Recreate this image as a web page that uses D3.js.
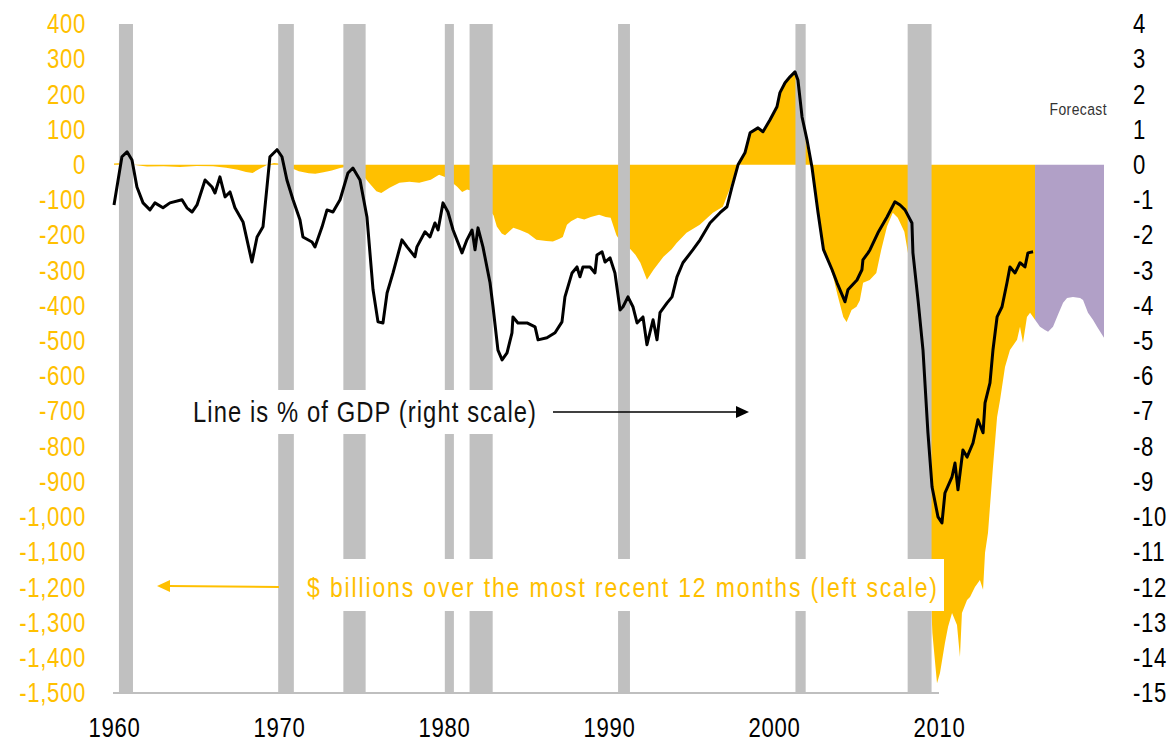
<!DOCTYPE html>
<html lang="en">
<head>
<meta charset="UTF-8">
<title>Budget balance</title>
<style>
  body { margin: 0; background: #fff; }
  svg text { font-family: "Liberation Sans", Arial, sans-serif; }
  .tick text { font-size: 27px; letter-spacing: 0.8px; }
</style>
</head>
<body>
<svg width="1172" height="745"></svg>
<script src="https://d3js.org/d3.v7.min.js"></script>
<script>
// recession periods (start, end) in fractional years
const recessions = [
  [1960.3, 1961.15], [1969.95, 1970.9], [1973.9, 1975.25], [1980.05, 1980.6],
  [1981.55, 1982.95], [1990.55, 1991.27], [2001.3, 2001.92], [2008.1, 2009.55]
];

// 12-month budget balance, $ billions (left scale)
const deficit = [
  [1960.0, 4], [1960.5, 5], [1961.0, 2], [1961.5, -2], [1962.0, -5], [1963.0, -4],
  [1964.0, -6], [1965.0, -3], [1966.0, -4], [1966.8, -8], [1967.5, -14], [1968.0, -20],
  [1968.4, -23], [1968.8, -12], [1969.3, 0], [1969.7, 5], [1970.1, 3], [1970.6, -6],
  [1971.2, -18], [1971.8, -24], [1972.2, -25], [1972.7, -21], [1973.2, -16], [1973.7, -9],
  [1974.2, -5], [1974.7, -10], [1975.1, -30], [1975.4, -48], [1975.9, -75], [1976.2, -80],
  [1976.7, -65], [1977.3, -51], [1977.9, -48], [1978.5, -51], [1979.2, -42], [1979.7, -28],
  [1980.1, -35], [1980.8, -62], [1981.1, -77], [1981.4, -70], [1981.8, -75], [1982.3, -100],
  [1982.7, -125], [1983.0, -143], [1983.2, -175], [1983.5, -195], [1983.7, -200], [1984.2, -179],
  [1984.6, -185], [1985.1, -195], [1985.6, -213], [1986.2, -216], [1986.6, -218], [1987.0, -210],
  [1987.2, -205], [1987.45, -170], [1987.7, -160], [1988.1, -150], [1988.5, -155], [1988.9, -148],
  [1989.4, -142], [1989.8, -148], [1990.1, -150], [1990.45, -200], [1990.8, -225], [1991.3, -240],
  [1991.6, -255], [1991.9, -278], [1992.3, -326], [1992.7, -298], [1993.3, -261], [1993.8, -240],
  [1994.1, -222], [1994.7, -193], [1995.5, -170], [1996.3, -136], [1996.9, -119], [1997.3, -71],
  [1997.8, 0], [1998.2, 34], [1998.5, 91], [1999.0, 105], [1999.3, 94], [1999.8, 128],
  [2000.2, 165], [2000.4, 205], [2000.7, 233], [2001.0, 250], [2001.27, 264], [2001.45, 241],
  [2001.7, 136], [2002.0, 50], [2002.3, -10], [2002.67, -135], [2003.0, -240], [2003.3, -275],
  [2003.6, -320], [2003.85, -370], [2004.2, -432], [2004.4, -446], [2004.7, -412], [2005.0, -403],
  [2005.2, -385], [2005.4, -335], [2005.8, -327], [2006.2, -307], [2006.5, -241], [2006.85, -175],
  [2007.2, -136], [2007.5, -150], [2007.9, -190], [2008.3, -300], [2008.7, -450], [2009.0, -700],
  [2009.3, -1000], [2009.6, -1330], [2009.88, -1472], [2010.06, -1443], [2010.36, -1358], [2010.55, -1312],
  [2010.79, -1273], [2011.09, -1307], [2011.27, -1398], [2011.39, -1273], [2011.7, -1236], [2011.88, -1227],
  [2012.18, -1199], [2012.48, -1179], [2012.67, -1207], [2012.79, -1102], [2012.97, -1045], [2013.27, -858],
  [2013.52, -716], [2013.7, -668], [2014.0, -574], [2014.3, -526], [2014.73, -497], [2014.91, -460],
  [2015.09, -506], [2015.33, -432], [2015.52, -420], [2015.82, -440]
];

// forecast, $ billions (left scale)
const forecast = [
  [2015.82, -440], [2016.12, -460], [2016.42, -469], [2016.61, -474], [2016.91, -460],
  [2017.21, -426], [2017.52, -392], [2017.76, -378], [2018.12, -375], [2018.55, -378],
  [2018.73, -384], [2019.03, -420], [2019.33, -440], [2019.58, -460], [2020.0, -491]
];

// budget balance as % of GDP (right scale)
const pctGdp = [
  [1960.0, -1.14], [1960.48, 0.23], [1960.79, 0.37], [1961.09, 0.14], [1961.39, -0.63], [1961.76, -1.08],
  [1962.18, -1.28], [1962.48, -1.08], [1962.97, -1.22], [1963.39, -1.08], [1964.12, -0.99], [1964.42, -1.22],
  [1964.73, -1.34], [1965.03, -1.14], [1965.52, -0.43], [1965.94, -0.63], [1966.12, -0.8], [1966.42, -0.34],
  [1966.73, -0.91], [1967.03, -0.77], [1967.33, -1.22], [1967.82, -1.62], [1968.36, -2.76], [1968.67, -2.05],
  [1969.03, -1.76], [1969.27, -0.63], [1969.45, 0.23], [1969.88, 0.43], [1970.18, 0.23], [1970.48, -0.43],
  [1970.85, -0.99], [1971.27, -1.56], [1971.45, -2.05], [1972.0, -2.19], [1972.18, -2.33], [1972.61, -1.76],
  [1972.91, -1.28], [1973.27, -1.34], [1973.7, -0.99], [1974.18, -0.23], [1974.48, -0.09], [1974.91, -0.43],
  [1975.33, -1.48], [1975.7, -3.55], [1976.0, -4.46], [1976.3, -4.49], [1976.55, -3.64], [1976.91, -3.07],
  [1977.45, -2.13], [1977.76, -2.33], [1978.24, -2.61], [1978.36, -2.33], [1978.85, -1.9], [1979.15, -2.05],
  [1979.45, -1.65], [1979.64, -1.85], [1979.94, -1.08], [1980.24, -1.34], [1980.55, -1.85], [1981.09, -2.5],
  [1981.39, -2.13], [1981.7, -1.85], [1981.88, -2.41], [1982.06, -1.79], [1982.36, -2.33], [1982.79, -3.35],
  [1982.97, -4.03], [1983.27, -5.26], [1983.52, -5.54], [1983.82, -5.34], [1984.12, -4.77], [1984.18, -4.32],
  [1984.48, -4.49], [1985.03, -4.49], [1985.52, -4.6], [1985.7, -4.97], [1986.24, -4.91], [1986.73, -4.77],
  [1987.15, -4.46], [1987.33, -3.75], [1987.76, -3.07], [1988.06, -2.9], [1988.24, -3.18], [1988.42, -2.9],
  [1988.85, -2.9], [1989.15, -3.07], [1989.27, -2.56], [1989.58, -2.47], [1989.76, -2.76], [1990.06, -2.64],
  [1990.36, -3.07], [1990.67, -4.12], [1990.85, -4.03], [1991.15, -3.75], [1991.45, -4.03], [1991.7, -4.49],
  [1992.06, -4.32], [1992.3, -5.11], [1992.67, -4.4], [1992.91, -4.97], [1993.09, -4.2], [1993.52, -3.92],
  [1993.82, -3.75], [1994.12, -3.18], [1994.48, -2.78], [1995.09, -2.41], [1995.52, -2.13], [1996.12, -1.65],
  [1996.73, -1.36], [1997.15, -1.19], [1997.45, -0.63], [1997.82, 0.0], [1998.24, 0.34], [1998.55, 0.91],
  [1999.03, 1.05], [1999.33, 0.94], [1999.76, 1.28], [2000.18, 1.65], [2000.36, 2.05], [2000.67, 2.33],
  [2000.97, 2.5], [2001.27, 2.64], [2001.45, 2.41], [2001.7, 1.36], [2002.0, 0.71], [2002.3, -0.06],
  [2002.67, -1.36], [2003.0, -2.41], [2003.52, -2.98], [2003.82, -3.35], [2004.18, -3.75], [2004.3, -3.89],
  [2004.48, -3.55], [2005.03, -3.27], [2005.33, -2.98], [2005.39, -2.7], [2005.7, -2.5], [2005.82, -2.41],
  [2006.3, -1.93], [2006.85, -1.48], [2007.33, -1.05], [2007.64, -1.14], [2007.94, -1.28], [2008.36, -1.65],
  [2008.42, -2.5], [2008.73, -3.84], [2009.03, -5.26], [2009.33, -7.61], [2009.58, -9.15], [2009.94, -10.0],
  [2010.18, -10.17], [2010.36, -9.32], [2010.79, -8.86], [2010.97, -8.47], [2011.15, -9.23], [2011.45, -8.1],
  [2011.7, -8.3], [2012.06, -7.9], [2012.36, -7.24], [2012.67, -7.61], [2012.79, -6.76], [2013.09, -6.19],
  [2013.27, -5.26], [2013.52, -4.32], [2013.82, -4.03], [2014.12, -3.35], [2014.3, -2.9], [2014.61, -3.07],
  [2014.91, -2.78], [2015.21, -2.9], [2015.39, -2.5], [2015.7, -2.47]
];

const leftTicks = d3.range(-1500, 401, 100);
const rightTicks = d3.range(-15, 5, 1);
const yearTicks = [1960, 1970, 1980, 1990, 2000, 2010];

const yellow = "#FFC000", purple = "#B1A0C7", grey = "#C0C0C0";
const narrow = 0.82; // squeeze Liberation Sans to an Arial-Narrow-like width

const svg = d3.select("svg");

const x = d3.scaleLinear().domain([1960, 2020]).range([114, 1104]);
const yL = d3.scaleLinear().domain([-1500, 400]).range([693, 24]);
const yR = d3.scaleLinear().domain([-15, 4]).range([693, 24]);

// yellow deficit area + purple forecast
const area = d3.area()
    .x(d => x(d[0]))
    .y0(yL(0))
    .y1(d => yL(d[1]));

svg.append("path").datum(deficit).attr("d", area).attr("fill", yellow);
svg.append("path").datum(forecast).attr("d", area).attr("fill", purple);

// recession bars
svg.selectAll("rect.rec")
  .data(recessions)
  .enter().append("rect")
    .attr("class", "rec")
    .attr("x", d => x(d[0]))
    .attr("width", d => x(d[1]) - x(d[0]))
    .attr("y", yL(400))
    .attr("height", yL(-1500) - yL(400))
    .attr("fill", grey);

// baseline
svg.append("line")
    .attr("x1", x(1960) - 1).attr("x2", x(2010))
    .attr("y1", yL(-1500)).attr("y2", yL(-1500))
    .attr("stroke", "#BFBFBF").attr("stroke-width", 2);

// % of GDP line
svg.append("path")
    .datum(pctGdp)
    .attr("d", d3.line().x(d => x(d[0])).y(d => yR(d[1])))
    .attr("fill", "none")
    .attr("stroke", "#000")
    .attr("stroke-width", 3)
    .attr("stroke-linejoin", "round");

// axes
const fmt = d => d3.format(",")(d).replace("\u2212", "-");

const gL = svg.append("g")
    .attr("transform", "translate(86,0)")
    .call(d3.axisLeft(yL).tickValues(leftTicks).tickFormat(fmt).tickSize(0).tickPadding(0));
gL.select(".domain").remove();
gL.selectAll("text").attr("fill", yellow).attr("transform", `scale(${narrow},1)`);

const gR = svg.append("g")
    .attr("transform", "translate(1133,0)")
    .call(d3.axisRight(yR).tickValues(rightTicks).tickFormat(fmt).tickSize(0).tickPadding(0));
gR.select(".domain").remove();
gR.selectAll("text").attr("fill", "#000").attr("transform", `scale(${narrow},1)`);

const gB = svg.append("g")
    .attr("transform", `translate(0,${yL(-1500)})`)
    .call(d3.axisBottom(x).tickValues(yearTicks).tickFormat(d3.format("d")).tickSize(0).tickPadding(25));
gB.select(".domain").remove();
gB.selectAll("text").attr("fill", "#000").attr("transform", `scale(${narrow},1)`);

// annotations
function note(px, py, w, txt, col, size) {
  svg.append("text")
      .attr("transform", `translate(${px},${py}) scale(${narrow},1)`)
      .attr("textLength", w / narrow).attr("lengthAdjust", "spacing")
      .style("font-size", size + "px")
      .attr("fill", col)
      .text(txt);
}

svg.append("rect").attr("x", 188).attr("y", 390).attr("width", 356).attr("height", 44).attr("fill", "#fff");
note(193, 422, 343, "Line is % of GDP (right scale)", "#111", 29);

svg.append("line")
    .attr("x1", 553).attr("x2", 738).attr("y1", 412).attr("y2", 412)
    .attr("stroke", "#000").attr("stroke-width", 1.5);
svg.append("path")
    .attr("d", "M736,406 L749,412 L736,418 Z")
    .attr("fill", "#000");

svg.append("rect").attr("x", 298).attr("y", 559).attr("width", 646).attr("height", 52).attr("fill", "#fff");
note(307, 597, 630, "$ billions over the most recent 12 months (left scale)", yellow, 28);

svg.append("line")
    .attr("x1", 279).attr("x2", 168).attr("y1", 587).attr("y2", 586)
    .attr("stroke", yellow).attr("stroke-width", 2);
svg.append("path")
    .attr("d", "M170,580 L157,586 L170,592 Z")
    .attr("fill", yellow);

svg.append("text")
    .attr("transform", `translate(1107,115) scale(${narrow},1)`)
    .attr("text-anchor", "end")
    .style("font-size", "17px")
    .style("letter-spacing", "0.5px")
    .attr("fill", "#333")
    .text("Forecast");
</script>
</body>
</html>
